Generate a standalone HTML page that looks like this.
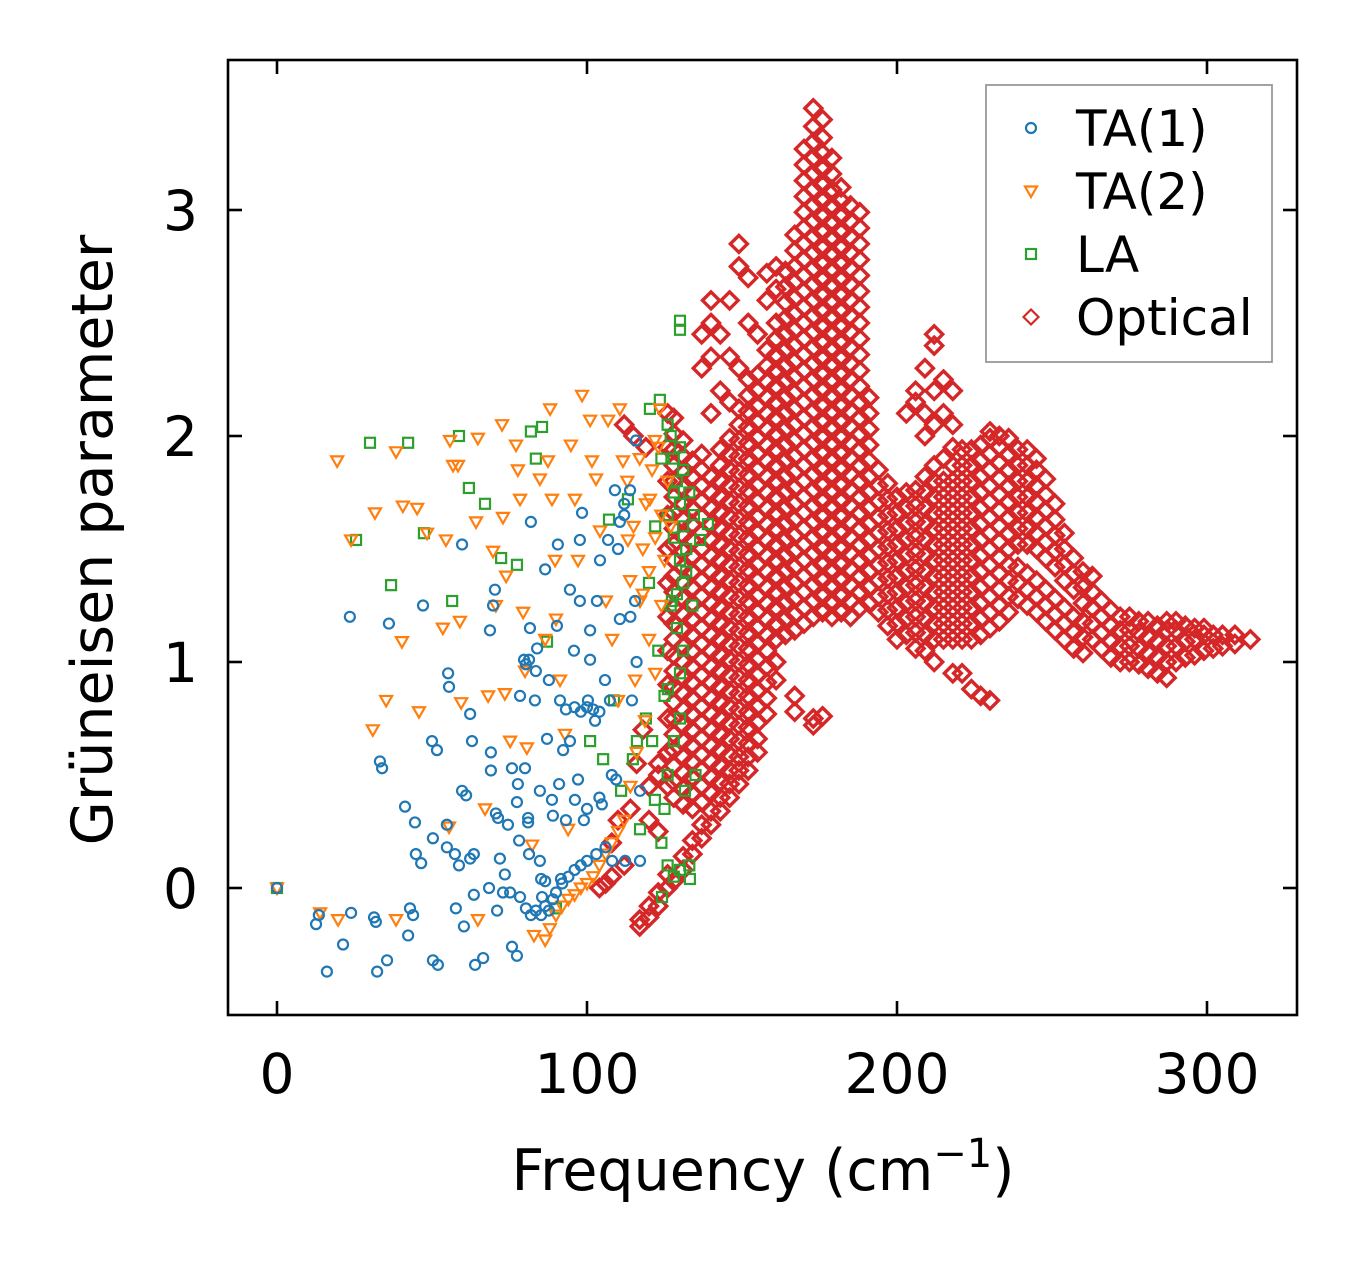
<!DOCTYPE html>
<html><head><meta charset="utf-8"><style>
html,body{margin:0;padding:0;background:#fff;}
svg{display:block;font-family:"DejaVu Sans","Liberation Sans",sans-serif;}
</style></head><body>
<svg id="chart" width="1357" height="1264" viewBox="0 0 1357 1264">
<rect x="0" y="0" width="1357" height="1264" fill="#fff"/>
<g id="marks"></g>
<g id="axes"></g>
<text x="763" y="1190" font-size="57" text-anchor="middle">Frequency (cm<tspan dy="-23" font-size="40">−1</tspan><tspan dy="23">)</tspan></text>
<text transform="translate(112,540) rotate(-90)" font-size="57" text-anchor="middle">Grüneisen parameter</text>
<g id="legend"></g>
</svg>
<script>
const xTicks = [0, 100, 200, 300];
const yTicks = [0, 1, 2, 3];
const seriesNames = ["TA(1)", "TA(2)", "LA", "Optical"];
const seriesColors = ["#1f77b4", "#ff7f0e", "#2ca02c", "#d62728"];

const ta1 = [[0,0],[16.1,-0.37],[12.6,-0.16],[13.5,-0.12],[21.3,-0.25],[23.9,-0.11],[32.3,-0.37],[35.5,-0.32],[31.9,-0.15],[31.3,-0.13],[33.2,0.56],[33.9,0.53],[36.1,1.17],[23.5,1.2],[42.9,-0.09],[42.3,-0.21],[43.9,-0.12],[47.1,1.25],[50,0.65],[51.6,0.61],[41.3,0.36],[44.5,0.29],[44.8,0.15],[46.5,0.11],[50.3,0.22],[54.8,0.18],[54.8,0.28],[57.4,0.15],[57.7,-0.09],[51.9,-0.34],[50.3,-0.32],[55.2,0.95],[55.5,0.89],[58.7,0.1],[59.7,1.52],[59.7,0.43],[61,0.41],[60.3,-0.17],[62.3,0.13],[62.9,0.65],[62.3,0.77],[63.5,0.15],[63.5,-0.03],[63.9,-0.34],[66.5,-0.31],[68.4,0],[68.7,1.14],[69,0.6],[69,0.52],[70.6,0.33],[71.3,0.31],[71.9,0.13],[69.7,1.25],[70.3,1.32],[71,-0.1],[72.9,-0.02],[73.5,0.06],[75.2,-0.02],[74.5,0.28],[75.8,0.53],[78.1,0.21],[78.4,-0.04],[75.8,-0.26],[77.4,-0.3],[78.4,0.85],[79.7,1.01],[80,0.53],[77.7,0.46],[77.4,0.38],[81,0.31],[81,0.29],[81.3,0.15],[81.6,1.15],[80.3,0.99],[81.3,1.01],[81.9,1.62],[83.2,0.83],[83.5,0.96],[83.9,1.06],[84.8,0.43],[84.8,0.12],[85.2,0.04],[85.5,-0.04],[86.5,0.03],[86.5,-0.08],[87.1,0.66],[86.5,1.41],[87.7,0.92],[88.7,0.39],[89,0.32],[90.3,1.16],[90.6,1.52],[91,0.46],[91.3,0.83],[91.6,0.04],[92.3,0.61],[93.2,0.79],[93.2,0.3],[94.5,0.65],[94.5,1.32],[95.8,1.05],[96.1,0.39],[97.1,0.48],[97.7,1.54],[97.7,1.27],[98.4,1.66],[99,0.3],[100.3,0.83],[101,1.14],[101,1.01],[102.6,0.74],[103.2,1.27],[104.2,1.45],[104.8,0.37],[105.8,0.92],[106.8,1.54],[107.4,0.83],[108.1,0.12],[109,1.76],[109.4,0.48],[110.6,1.62],[110.6,1.19],[112.3,0.12],[113.9,1.76],[114.5,0.83],[115.8,1.98],[117.1,0.43],[117.1,0.12],[115.5,1.27],[80.3,-0.09],[81.9,-0.12],[83.5,-0.1],[85.2,-0.12],[87.7,-0.1],[89,-0.05],[90,-0.02],[92,0.02],[94,0.05],[96,0.08],[98,0.1],[100,0.12],[103,0.15],[106,0.18],[96,0.8],[98,0.78],[100,0.8],[102,0.79],[104,0.78],[100,0.35],[104,0.4],[108,0.5],[112,1.65],[110,1.5],[112,1.7],[114,1.2],[116,1.0]];

const ta2 = [[0,0],[19.4,1.89],[13.9,-0.11],[19.7,-0.14],[23.9,1.54],[31.6,1.66],[30.9,0.7],[35.2,0.83],[38.4,1.93],[40.6,1.69],[45.2,1.68],[40.3,1.09],[45.8,0.78],[38.4,-0.14],[55.8,1.98],[56.8,1.87],[58.4,1.87],[48.4,1.57],[54.5,1.54],[53.5,1.15],[59,1.18],[55.5,0.27],[59.4,0.82],[64.8,1.99],[64.2,1.62],[68.1,0.85],[67.1,0.35],[64.8,-0.14],[69.7,1.49],[70.6,1.25],[72.6,2.05],[72.9,1.64],[73.9,1.38],[73.5,0.86],[75.2,0.65],[77.1,1.96],[77.7,1.85],[78.4,1.72],[79.4,1.22],[80,0.96],[80.6,0.62],[82.3,0.19],[82.9,-0.21],[86.5,-0.23],[88.1,2.12],[87.4,1.89],[84.8,1.81],[88.7,1.72],[89.7,1.45],[90,1.19],[86.5,1.1],[91.3,0.92],[92.9,0.68],[93.9,0.26],[94.8,1.96],[96.1,1.72],[97.1,1.45],[98.4,2.18],[101,2.07],[101.6,1.89],[102.9,1.81],[104.2,1.58],[106.1,1.27],[106.8,2.07],[108.1,1.1],[110,0.83],[110.6,2.12],[111.6,1.89],[113.2,1.54],[113.9,1.36],[115.5,0.92],[117.1,1.27],[118.7,0.74],[120.3,1.72],[121.9,1.98],[123.5,2.12],[113,1.8],[115,1.6],[117,1.9],[118,1.5],[119,1.7],[120,1.4],[121,1.85],[122,1.55],[123,1.95],[124,1.65],[125,1.45],[126,1.8],[127,1.6],[118,1.3],[120,1.1],[122,0.95],[124,1.25],[116,0.6],[114,0.45],[112,0.3],[110,0.25],[108,0.2],[106,0.15],[104,0.1],[102,0.05],[100,0.02],[98,0],[96,-0.03],[94,-0.05],[92,-0.08],[90,-0.12],[88,-0.18]];

const la = [[0,0],[30,1.97],[42.3,1.97],[25.5,1.54],[36.8,1.34],[47.4,1.57],[56.5,1.27],[58.7,2.0],[61.9,1.77],[67.1,1.7],[72.3,1.46],[77.4,1.43],[81.9,2.02],[85.5,2.04],[83.5,1.9],[87.1,1.09],[90,-0.09],[101,0.65],[105.2,0.57],[107.1,1.63],[108.7,0.83],[111,0.43],[113.2,1.72],[114.8,0.57],[116.1,0.65],[117.1,0.26],[120.3,2.12],[121.9,0.39],[123.5,2.16],[126.1,0.88],[127.4,1.27],[130,2.51],[130,2.47],[131.6,0.43],[133.2,0.04],[134.5,1.65],[136.5,1.54],[139,1.61],[124.2,-0.04],[127,2.0],[128,1.9],[129,1.8],[130,1.7],[131,1.6],[132,1.5],[128,1.75],[130,1.95],[131,1.85],[132,1.4],[129,1.3],[131,1.35],[128,1.55],[130,1.45],[126,1.65],[127,1.25],[129,1.15],[131,1.05],[130,0.95],[128,0.65],[130,0.75],[126,0.5],[125,0.35],[124,0.2],[126,0.1],[128,0.05],[130,0.08],[133,0.1],[121,0.65],[119,0.75],[123,1.05],[125,0.85],[120,1.35],[122,1.6],[124,1.9],[126,2.05],[133,1.75],[134,1.25],[135,0.5]];

const optical = [
[117,[-0.17,-0.14]],
[120,[-0.13,-0.08,0.3,0.45]],
[123,[-0.08,-0.02,0.25,0.5,0.55]],
[126,[0.0,0.06,0.45,0.6,0.75,0.9,1.05,1.2,1.35,1.5,1.65,1.8,1.95,2.1]],
[128,[0.03,0.40,0.47,0.54,0.61,0.68,0.75,0.82,0.89,0.96,1.03,1.10,1.17,1.24,1.31,1.38,1.45,1.52,1.59,1.66,1.73,1.80,1.87,1.94,2.01,2.08]],
[131,[0.08,0.14,0.37,0.44,0.51,0.58,0.65,0.72,0.79,0.86,0.93,1.00,1.07,1.14,1.21,1.28,1.35,1.42,1.49,1.56,1.63,1.70,1.77,1.84,1.91,1.98]],
[134,[0.15,0.21,0.35,0.42,0.49,0.56,0.63,0.70,0.77,0.84,0.91,0.98,1.05,1.12,1.19,1.26,1.33,1.40,1.47,1.54,1.61,1.68,1.75,1.82,1.89]],
[137,[0.22,0.28,0.38,0.45,0.52,0.59,0.66,0.73,0.80,0.87,0.94,1.01,1.08,1.15,1.22,1.29,1.36,1.43,1.50,1.57,1.64,1.71,1.78,1.85,1.92,2.3,2.45]],
[140,[0.28,0.34,0.42,0.49,0.56,0.63,0.70,0.77,0.84,0.91,0.98,1.05,1.12,1.19,1.26,1.33,1.40,1.47,1.54,1.61,1.68,1.75,1.82,2.1,2.35,2.5,2.6]],
[143,[0.34,0.40,0.47,0.54,0.61,0.68,0.75,0.82,0.89,0.96,1.03,1.10,1.17,1.24,1.31,1.38,1.45,1.52,1.59,1.66,1.73,1.80,1.87,1.94,2.2,2.45]],
[146,[0.40,0.46,0.52,0.59,0.66,0.73,0.80,0.87,0.94,1.01,1.08,1.15,1.22,1.29,1.36,1.43,1.50,1.57,1.64,1.71,1.78,1.85,1.92,1.99,2.15,2.35,2.6]],
[149,[0.46,0.52,0.58,0.65,0.72,0.79,0.86,0.93,1.00,1.07,1.14,1.21,1.28,1.35,1.42,1.49,1.56,1.63,1.70,1.77,1.84,1.91,1.98,2.05,2.12,2.3,2.75,2.85]],
[152,[0.52,0.58,0.64,0.71,0.78,0.85,0.92,0.99,1.06,1.13,1.20,1.27,1.34,1.41,1.48,1.55,1.62,1.69,1.76,1.83,1.90,1.97,2.04,2.11,2.18,2.25,2.5,2.7]],
[155,[0.60,0.66,0.73,0.80,0.87,0.94,1.01,1.08,1.15,1.22,1.29,1.36,1.43,1.50,1.57,1.64,1.71,1.78,1.85,1.92,1.99,2.06,2.13,2.20,2.27,2.45]],
[158,[0.77,0.84,0.91,0.98,1.05,1.12,1.19,1.26,1.33,1.40,1.47,1.54,1.61,1.68,1.75,1.82,1.89,1.96,2.03,2.10,2.17,2.24,2.31,2.38,2.6,2.72]],
[161,[0.92,1.0,1.10,1.17,1.24,1.31,1.38,1.45,1.52,1.59,1.66,1.73,1.80,1.87,1.94,2.01,2.08,2.15,2.22,2.29,2.36,2.43,2.50,2.65,2.75]],
[164,[1.12,1.19,1.26,1.33,1.40,1.47,1.54,1.61,1.68,1.75,1.82,1.89,1.96,2.03,2.10,2.17,2.24,2.31,2.38,2.45,2.52,2.59,2.66,2.73]],
[167,[0.78,0.85,1.14,1.21,1.28,1.35,1.42,1.49,1.56,1.63,1.70,1.77,1.84,1.91,1.98,2.05,2.12,2.19,2.26,2.33,2.40,2.47,2.54,2.61,2.68,2.75,2.82,2.89]],
[170,[1.17,1.24,1.31,1.38,1.45,1.52,1.59,1.66,1.73,1.80,1.87,1.94,2.01,2.08,2.15,2.22,2.29,2.36,2.43,2.50,2.57,2.64,2.71,2.78,2.85,2.92,2.99,3.06,3.13,3.20,3.27]],
[173,[0.72,0.75,1.20,1.27,1.34,1.41,1.48,1.55,1.62,1.69,1.76,1.83,1.90,1.97,2.04,2.11,2.18,2.25,2.32,2.39,2.46,2.53,2.60,2.67,2.74,2.81,2.88,2.95,3.02,3.09,3.16,3.23,3.30,3.37,3.45]],
[176,[0.76,1.22,1.29,1.36,1.43,1.50,1.57,1.64,1.71,1.78,1.85,1.92,1.99,2.06,2.13,2.20,2.27,2.34,2.41,2.48,2.55,2.62,2.69,2.76,2.83,2.90,2.97,3.04,3.11,3.18,3.25,3.32,3.40]],
[179,[1.20,1.27,1.34,1.41,1.48,1.55,1.62,1.69,1.76,1.83,1.90,1.97,2.04,2.11,2.18,2.25,2.32,2.39,2.46,2.53,2.60,2.67,2.74,2.81,2.88,2.95,3.02,3.09,3.16,3.23]],
[182,[1.22,1.29,1.36,1.43,1.50,1.57,1.64,1.71,1.78,1.85,1.92,1.99,2.06,2.13,2.20,2.27,2.34,2.41,2.48,2.55,2.62,2.69,2.76,2.83,2.90,2.97,3.04,3.10]],
[185,[1.20,1.27,1.34,1.41,1.48,1.55,1.62,1.69,1.76,1.83,1.90,1.97,2.04,2.11,2.18,2.25,2.32,2.39,2.46,2.53,2.60,2.67,2.74,2.81,2.88,2.95,3.02]],
[188,[1.24,1.31,1.38,1.45,1.52,1.59,1.66,1.73,1.80,1.87,1.94,2.01,2.08,2.15,2.22,2.29,2.36,2.43,2.50,2.57,2.64,2.71,2.78,2.85,2.92,2.99]],
[191,[1.26,1.33,1.40,1.47,1.54,1.61,1.68,1.75,1.82,1.89,1.96,2.03,2.10,2.17]],
[194,[1.22,1.29,1.36,1.43,1.50,1.57,1.64,1.71,1.78,1.85]],
[197,[1.16,1.23,1.30,1.37,1.44,1.51,1.58,1.65,1.72,1.79]],
[200,[1.10,1.17,1.24,1.31,1.38,1.45,1.52,1.59,1.66,1.73]],
[203,[1.12,1.19,1.26,1.33,1.40,1.47,1.54,1.61,1.68,1.75,2.1]],
[206,[1.06,1.13,1.20,1.27,1.34,1.41,1.48,1.55,1.62,1.69,1.76,2.15,2.2]],
[209,[1.05,1.12,1.19,1.26,1.33,1.40,1.47,1.54,1.61,1.68,1.75,1.82,2.0,2.1,2.3]],
[212,[1.00,1.10,1.17,1.24,1.31,1.38,1.45,1.52,1.59,1.66,1.73,1.80,1.87,2.05,2.2,2.4,2.45]],
[215,[1.10,1.17,1.24,1.31,1.38,1.45,1.52,1.59,1.66,1.73,1.80,1.90,2.1,2.25]],
[218,[0.95,1.10,1.17,1.24,1.31,1.38,1.45,1.52,1.59,1.66,1.73,1.80,1.87,1.95,2.05,2.2]],
[221,[0.95,1.10,1.17,1.24,1.31,1.38,1.45,1.52,1.59,1.66,1.73,1.80,1.87,1.94]],
[224,[0.88,1.1,1.17,1.24,1.31,1.38,1.45,1.52,1.59,1.66,1.73,1.80,1.87,1.94]],
[227,[0.85,1.12,1.19,1.26,1.33,1.40,1.47,1.54,1.61,1.68,1.75,1.82,1.89,1.96]],
[230,[0.83,1.15,1.22,1.29,1.36,1.43,1.50,1.57,1.64,1.71,1.78,1.85,1.92,1.99,2.02]],
[233,[1.18,1.25,1.32,1.39,1.46,1.53,1.60,1.67,1.74,1.81,1.88,1.95,2.0]],
[236,[1.22,1.29,1.36,1.43,1.50,1.57,1.64,1.71,1.78,1.85,1.92,1.99]],
[239,[1.28,1.35,1.42,1.52,1.59,1.66,1.73,1.80,1.87,1.94]],
[242,[1.25,1.32,1.39,1.52,1.59,1.66,1.73,1.80,1.87,1.94]],
[245,[1.22,1.29,1.36,1.50,1.57,1.64,1.71,1.78,1.85,1.90]],
[248,[1.18,1.25,1.32,1.46,1.53,1.60,1.67,1.74,1.81]],
[251,[1.14,1.21,1.28,1.42,1.49,1.56,1.63,1.70]],
[254,[1.10,1.17,1.24,1.36,1.43,1.50,1.57]],
[257,[1.06,1.13,1.20,1.32,1.39,1.46]],
[260,[1.04,1.11,1.18,1.26,1.33,1.40]],
[263,[1.10,1.17,1.24,1.31,1.38]],
[266,[1.06,1.13,1.20,1.27]],
[269,[1.02,1.09,1.16,1.23]],
[272,[1.00,1.07,1.14,1.20]],
[275,[1.00,1.07,1.14,1.20]],
[278,[0.99,1.06,1.13,1.18]],
[281,[0.97,1.04,1.11,1.18]],
[284,[0.95,1.02,1.09,1.16]],
[287,[0.93,1.00,1.07,1.14,1.18]],
[290,[1.00,1.07,1.14,1.18]],
[293,[1.02,1.09,1.16]],
[296,[1.03,1.10,1.15]],
[299,[1.05,1.12,1.15]],
[302,[1.06,1.12]],
[305,[1.07,1.12]],
[309,[1.08,1.12]],
[314,[1.10]],
[108,[0.05,0.2]],[112,[0.1,2.05]],[110,[0.3]],[114,[0.35]],[116,[0.55]],[118,[0.7]],[115,[2.0]],[119,[1.95]],[106,[0.02]],[104,[0.0]]
];

const PL = 228, PT = 60, PW = 1069, PH = 955;
function xs(f){ return 277 + f * 3.1; }
function ys(g){ return 888 - g * 226; }

const NS = "http://www.w3.org/2000/svg";
const marks = document.getElementById("marks");
const axes = document.getElementById("axes");
const legend = document.getElementById("legend");

function mk(tag, attrs, parent){
  const el = document.createElementNS(NS, tag);
  for (const k in attrs) el.setAttribute(k, attrs[k]);
  parent.appendChild(el);
  return el;
}

function marker(kind, cx, cy, color, parent, big){
  let el;
  if (kind === 0) {
    el = mk("circle", {cx: cx, cy: cy, r: 5, fill: "none", stroke: color, "stroke-width": 2.2}, parent);
  } else if (kind === 1) {
    el = mk("path", {d: `M${cx-6},${cy-4.5}L${cx+6},${cy-4.5}L${cx},${cy+6}Z`, fill: "none", stroke: color, "stroke-width": 2.2}, parent);
  } else if (kind === 2) {
    el = mk("rect", {x: cx-5, y: cy-5, width: 10, height: 10, fill: "none", stroke: color, "stroke-width": 2.2}, parent);
  } else {
    const h = big ? 8.5 : 7.5;
    el = mk("path", {d: `M${cx},${cy-h}L${cx+h},${cy}L${cx},${cy+h}L${cx-h},${cy}Z`, fill: "none", stroke: color, "stroke-width": big ? 3.4 : 2.2}, parent);
  }
  return el;
}

const gOpt = mk("g", {}, marks);


optical.forEach(col => {
  col[1].forEach(g => {
    const m = marker(3, xs(col[0]), ys(g), seriesColors[3], gOpt, true);
    
    
  });
});
const gLA = mk("g", {}, marks);


la.forEach(p => {
  const m = marker(2, xs(p[0]), ys(p[1]), seriesColors[2], gLA);
  
  
});
const gT2 = mk("g", {}, marks);


ta2.forEach(p => {
  const m = marker(1, xs(p[0]), ys(p[1]), seriesColors[1], gT2);
  
  
});
const gT1 = mk("g", {}, marks);


ta1.forEach(p => {
  const m = marker(0, xs(p[0]), ys(p[1]), seriesColors[0], gT1);
  
  
});

const frame = mk("rect", {x: PL, y: PT, width: PW, height: PH, fill: "none", stroke: "#000", "stroke-width": 2.6}, axes);



xTicks.forEach(t => {
  const x = xs(t);
  const t1 = mk("line", {x1: x, y1: PT+PH, x2: x, y2: PT+PH-14, stroke: "#000", "stroke-width": 2.6}, axes);
  
  
  const t2 = mk("line", {x1: x, y1: PT, x2: x, y2: PT+14, stroke: "#000", "stroke-width": 2.6}, axes);
  
  
  const lb = mk("text", {x: x, y: 1093, "font-size": 55, "text-anchor": "middle"}, axes);
  lb.textContent = String(t);
  
  
});
yTicks.forEach(t => {
  const y = ys(t);
  const t1 = mk("line", {x1: PL, y1: y, x2: PL+14, y2: y, stroke: "#000", "stroke-width": 2.6}, axes);
  
  
  const t2 = mk("line", {x1: PL+PW, y1: y, x2: PL+PW-14, y2: y, stroke: "#000", "stroke-width": 2.6}, axes);
  
  
  const lb = mk("text", {x: 198, y: y + 20, "font-size": 55, "text-anchor": "end"}, axes);
  lb.textContent = String(t);
  
  
});

const lbox = mk("rect", {x: 986, y: 85, width: 286, height: 277, fill: "#fff", "fill-opacity": 0.8, stroke: "#999", "stroke-width": 1.8}, legend);


seriesNames.forEach((name, i) => {
  const y = 128 + i * 63;
  const m = marker(i, 1031, y, seriesColors[i], legend, false);
  
  
  const tx = mk("text", {x: 1076, y: y + 18, "font-size": 50}, legend);
  tx.textContent = name;
  
  
});
</script>
</body></html>
